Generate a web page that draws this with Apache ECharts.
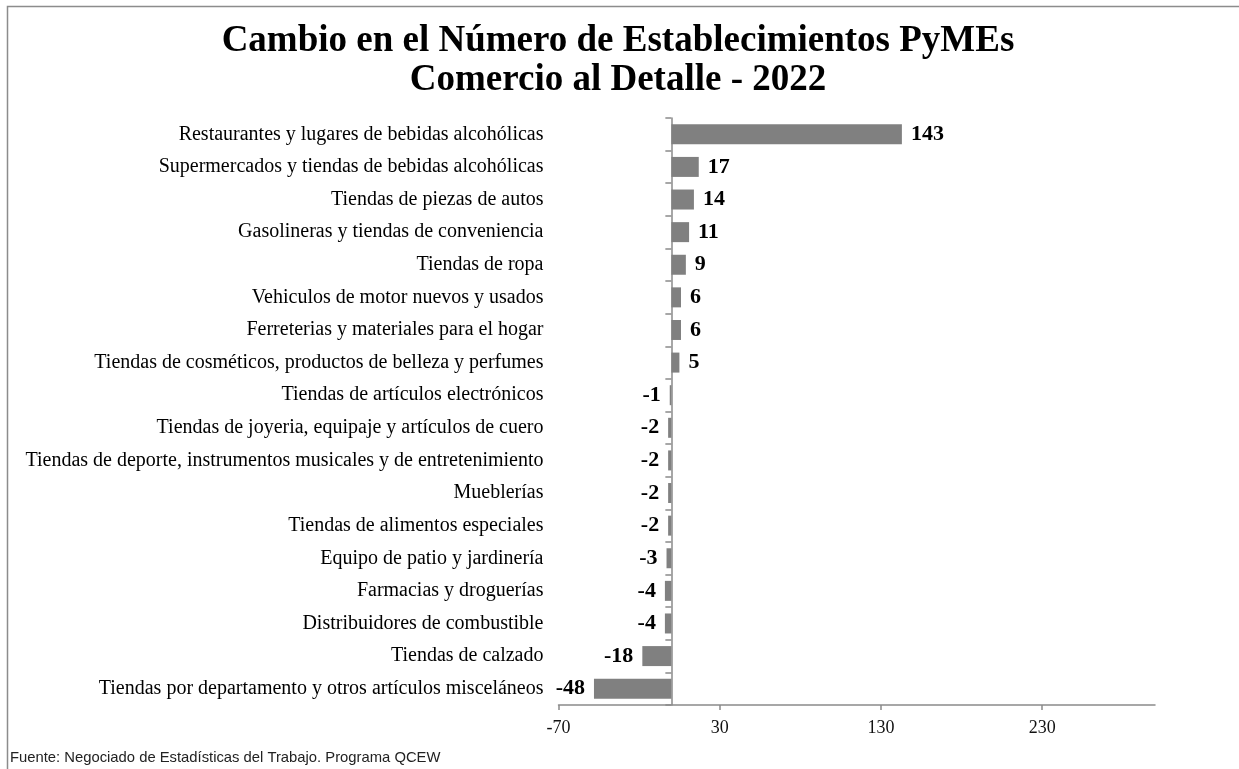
<!DOCTYPE html>
<html>
<head>
<meta charset="utf-8">
<script src="https://cdn.jsdelivr.net/npm/echarts@6/dist/echarts.min.js"></script>
<style>
html,body{margin:0;padding:0;background:#fff;}
#chart{width:1239px;height:769px;}
</style>
</head>
<body>
<div id="chart"></div>
<script>
const titleText = 'Cambio en el Número de Establecimientos PyMEs\nComercio al Detalle - 2022';
const sourceText = 'Fuente: Negociado de Estadísticas del Trabajo. Programa QCEW';
const categories = [
  'Restaurantes y lugares de bebidas alcohólicas',
  'Supermercados y tiendas de bebidas alcohólicas',
  'Tiendas de piezas de autos',
  'Gasolineras y tiendas de conveniencia',
  'Tiendas de ropa',
  'Vehiculos de motor nuevos y usados',
  'Ferreterias y materiales para el hogar',
  'Tiendas de cosméticos, productos de belleza y perfumes',
  'Tiendas de artículos electrónicos',
  'Tiendas de joyeria, equipaje y artículos de cuero',
  'Tiendas de deporte, instrumentos musicales y de entretenimiento',
  'Mueblerías',
  'Tiendas de alimentos especiales',
  'Equipo de patio y jardinería',
  'Farmacias y droguerías',
  'Distribuidores de combustible',
  'Tiendas de calzado',
  'Tiendas por departamento y otros artículos misceláneos'
];
const values = [143, 17, 14, 11, 9, 6, 6, 5, -1, -2, -2, -2, -2, -3, -4, -4, -18, -48];
const xMin = -70, xMax = 300, xStep = 100;

const seriesData = values.map(v => ({
  value: v,
  label: { position: v < 0 ? 'left' : 'right' }
}));

const chart = echarts.init(document.getElementById('chart'), null, {renderer: 'canvas'});
chart.setOption({
  animation: false,
  backgroundColor: '#ffffff',
  title: {
    text: titleText,
    left: 613,
    textAlign: 'center',
    top: 17,
    textStyle: {
      fontFamily: 'Liberation Serif',
      fontWeight: 'bold',
      fontSize: 37,
      lineHeight: 39,
      color: '#000'
    }
  },
  graphic: [
    {
      type: 'rect',
      shape: { x: 7.5, y: 6.5, width: 1400, height: 900 },
      style: { fill: 'none', stroke: '#8c8c8c', lineWidth: 1.5 },
      silent: true
    },
    {
      type: 'text',
      left: 10,
      top: 750,
      style: {
        text: sourceText,
        font: '14.8px "Liberation Sans"',
        fill: '#222'
      }
    }
  ],
  grid: { left: 558.5, right: 84, top: 118, bottom: 64, containLabel: false },
  xAxis: {
    type: 'value',
    min: xMin,
    max: xMax,
    interval: xStep,
    splitLine: { show: false },
    axisLine: { show: true, onZero: false, lineStyle: { color: '#8a8a8a', width: 1.5 } },
    axisTick: { show: true, length: 5, lineStyle: { color: '#8a8a8a', width: 1.5 } },
    axisLabel: {
      showMaxLabel: false,
      margin: 14,
      fontFamily: 'Liberation Serif',
      fontSize: 18,
      color: '#111'
    }
  },
  yAxis: [
    {
      type: 'category',
      data: categories,
      inverse: true,
      position: 'left',
      axisLine: { show: false, onZero: false },
      axisTick: { show: false },
      axisLabel: {
        margin: 15,
        fontFamily: 'Liberation Serif',
        fontSize: 20,
        color: '#000'
      }
    },
    {
      type: 'category',
      data: categories,
      inverse: true,
      position: 'left',
      axisLine: { show: true, onZero: true, lineStyle: { color: '#8a8a8a', width: 1.5 } },
      axisTick: { show: true, length: 6, lineStyle: { color: '#8a8a8a', width: 1.5 } },
      axisLabel: { show: false }
    }
  ],
  series: [{
    type: 'bar',
    yAxisIndex: 0,
    data: seriesData,
    barWidth: 20,
    itemStyle: { color: '#808080' },
    label: {
      show: true,
      distance: 9,
      fontFamily: 'Liberation Serif',
      fontWeight: 'bold',
      fontSize: 22,
      color: '#000'
    }
  }]
});
</script>
</body>
</html>
